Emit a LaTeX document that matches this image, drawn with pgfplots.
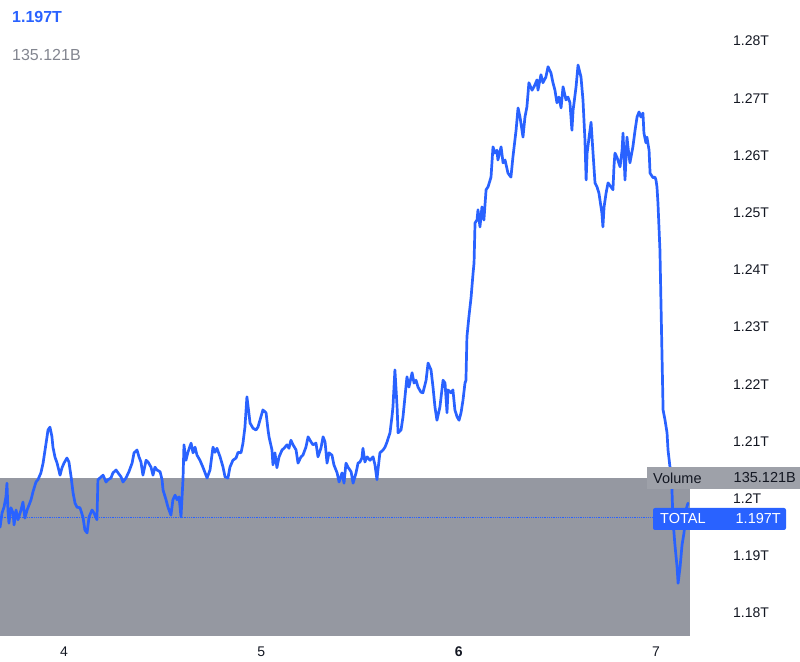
\documentclass[border=0pt]{standalone}
\usepackage{pgfplots}
\pgfplotsset{compat=1.18}
\usepackage{fontspec}
\setmainfont{Liberation Sans}
\definecolor{tvblue}{RGB}{41,98,255}
\definecolor{tvgray}{RGB}{149,152,161}
\definecolor{tvbox}{RGB}{158,161,169}
\definecolor{tvtext}{RGB}{19,23,34}
\definecolor{tvlegend}{RGB}{130,133,143}
\begin{document}
\begin{tikzpicture}[x=1pt,y=1pt]
\path[use as bounding box] (0,0) rectangle (800,661);
\begin{axis}[
  at={(0pt,25pt)}, anchor=south west,
  scale only axis, width=690pt, height=636pt,
  xmin=3.6757, xmax=7.1724, ymin=1.17598, ymax=1.28717,
  axis line style={draw=none}, tick style={draw=none},
  clip=false,
  xtick={4,5,6,7}, xticklabels={4,5,\textbf{6},7},
  ytick={1.18,1.19,1.2,1.21,1.22,1.23,1.24,1.25,1.26,1.27,1.28},
  yticklabels={1.18T,1.19T,1.2T,1.21T,1.22T,1.23T,1.24T,1.25T,1.26T,1.27T,1.28T},
  yticklabel pos=right,
  yticklabel style={anchor=west, inner sep=0pt, xshift=43pt, font=\fontsize{14}{16}\selectfont, text=tvtext},
  xticklabel style={anchor=center, yshift=-16pt, inner sep=0pt, font=\fontsize{14}{16}\selectfont, text=tvtext},
  /pgf/number format/assume math mode=true,
]
\addplot[fill=tvgray, draw=none] coordinates {(3.6757,1.17598) (3.6757,1.2036) (7.1724,1.2036) (7.1724,1.17598)} -- cycle;
\addplot[tvblue, densely dotted, line width=0.8pt] coordinates {(3.6757,1.1968) (7.1724,1.1968)};
\addplot[tvblue, line width=2.7pt, line join=round, line cap=round] coordinates {
(3.676,1.1950) (3.686,1.1975) (3.696,1.1985) (3.706,1.2003) (3.711,1.2027) (3.716,1.1980) (3.721,1.1957) (3.731,1.1984)
(3.742,1.1975) (3.747,1.1954) (3.757,1.1980) (3.767,1.1963) (3.782,1.1980) (3.792,1.1994) (3.802,1.1966) (3.813,1.1980)
(3.833,1.1998) (3.843,1.2012) (3.858,1.2029) (3.868,1.2033) (3.883,1.2045) (3.894,1.2062) (3.904,1.2085) (3.914,1.2108)
(3.919,1.2120) (3.929,1.2125) (3.939,1.2108) (3.944,1.2090) (3.954,1.2073) (3.965,1.2062) (3.980,1.2041) (3.990,1.2054)
(4.000,1.2062) (4.015,1.2071) (4.025,1.2064) (4.036,1.2038) (4.046,1.2010) (4.056,1.1992) (4.066,1.1985) (4.081,1.1984)
(4.096,1.1968) (4.106,1.1945) (4.117,1.1940) (4.127,1.1968) (4.142,1.1980) (4.152,1.1975) (4.167,1.1963) (4.172,1.2033)
(4.182,1.2036) (4.198,1.2041) (4.213,1.2029) (4.223,1.2033) (4.238,1.2036) (4.248,1.2045) (4.264,1.2050) (4.274,1.2045)
(4.289,1.2038) (4.299,1.2029) (4.314,1.2036) (4.329,1.2047) (4.345,1.2062) (4.355,1.2080) (4.370,1.2085) (4.380,1.2073)
(4.390,1.2064) (4.400,1.2041) (4.416,1.2067) (4.426,1.2064) (4.441,1.2055) (4.451,1.2041) (4.461,1.2055) (4.471,1.2050)
(4.487,1.2047) (4.497,1.2033) (4.502,1.2015) (4.517,1.1998) (4.527,1.1985) (4.542,1.1971) (4.552,1.1998) (4.563,1.2006)
(4.573,1.1998) (4.583,1.2003) (4.593,1.1968) (4.603,1.2033) (4.608,1.2094) (4.618,1.2067) (4.628,1.2081) (4.644,1.2097)
(4.654,1.2080) (4.664,1.2090) (4.674,1.2076) (4.689,1.2067) (4.704,1.2055) (4.715,1.2045) (4.725,1.2036) (4.740,1.2050)
(4.755,1.2090) (4.765,1.2081) (4.775,1.2088) (4.791,1.2073) (4.806,1.2055) (4.816,1.2038) (4.831,1.2036) (4.841,1.2055)
(4.856,1.2067) (4.872,1.2071) (4.882,1.2081) (4.897,1.2080) (4.907,1.2097) (4.917,1.2125) (4.927,1.2178) (4.932,1.2164)
(4.943,1.2132) (4.958,1.2123) (4.973,1.2120) (4.983,1.2125) (4.998,1.2143) (5.008,1.2155) (5.024,1.2150) (5.034,1.2120)
(5.039,1.2108) (5.054,1.2085) (5.059,1.2059) (5.069,1.2080) (5.079,1.2054) (5.090,1.2073) (5.105,1.2085) (5.115,1.2088)
(5.130,1.2094) (5.140,1.2088) (5.150,1.2102) (5.161,1.2094) (5.176,1.2085) (5.186,1.2062) (5.201,1.2073) (5.211,1.2076)
(5.226,1.2090) (5.237,1.2108) (5.252,1.2099) (5.262,1.2094) (5.277,1.2097) (5.287,1.2073) (5.302,1.2088) (5.313,1.2108)
(5.323,1.2099) (5.333,1.2062) (5.343,1.2080) (5.358,1.2076) (5.368,1.2059) (5.384,1.2045) (5.394,1.2029) (5.409,1.2045)
(5.419,1.2027) (5.429,1.2062) (5.439,1.2055) (5.455,1.2047) (5.465,1.2027) (5.480,1.2045) (5.490,1.2062) (5.500,1.2064)
(5.510,1.2071) (5.515,1.2088) (5.525,1.2064) (5.536,1.2073) (5.551,1.2067) (5.566,1.2073) (5.576,1.2059) (5.586,1.2033)
(5.591,1.2050) (5.601,1.2080) (5.617,1.2085) (5.627,1.2090) (5.637,1.2099) (5.652,1.2115) (5.662,1.2143) (5.667,1.2160)
(5.677,1.2225) (5.688,1.2160) (5.693,1.2115) (5.708,1.2120) (5.718,1.2143) (5.728,1.2178) (5.738,1.2213) (5.748,1.2195)
(5.764,1.2220) (5.774,1.2202) (5.784,1.2207) (5.794,1.2195) (5.809,1.2186) (5.819,1.2185) (5.835,1.2207) (5.845,1.2237)
(5.860,1.2225) (5.870,1.2195) (5.880,1.2160) (5.890,1.2137) (5.905,1.2160) (5.921,1.2207) (5.931,1.2202) (5.941,1.2150)
(5.946,1.2190) (5.961,1.2185) (5.971,1.2190) (5.981,1.2155) (5.992,1.2143) (6.002,1.2137) (6.012,1.2150) (6.022,1.2172)
(6.032,1.2202) (6.037,1.2207) (6.042,1.2283) (6.052,1.2318) (6.063,1.2352) (6.073,1.2394) (6.078,1.2412) (6.083,1.2482)
(6.093,1.2487) (6.098,1.2505) (6.108,1.2475) (6.118,1.2510) (6.128,1.2487) (6.139,1.2540) (6.149,1.2545) (6.164,1.2562)
(6.174,1.2615) (6.184,1.2604) (6.194,1.2609) (6.199,1.2592) (6.215,1.2615) (6.225,1.2587) (6.235,1.2592) (6.250,1.2569)
(6.265,1.2562) (6.275,1.2597) (6.291,1.2644) (6.301,1.2683) (6.311,1.2667) (6.321,1.2644) (6.326,1.2632) (6.336,1.2667)
(6.346,1.2685) (6.356,1.2727) (6.372,1.2714) (6.382,1.2720) (6.397,1.2732) (6.402,1.2714) (6.417,1.2741) (6.427,1.2727)
(6.442,1.2737) (6.453,1.2755) (6.468,1.2744) (6.478,1.2727) (6.488,1.2714) (6.498,1.2692) (6.508,1.2702) (6.519,1.2683)
(6.529,1.2720) (6.544,1.2697) (6.554,1.2702) (6.564,1.2692) (6.574,1.2644) (6.580,1.2679) (6.595,1.2720) (6.605,1.2758)
(6.620,1.2737) (6.630,1.2697) (6.635,1.2662) (6.640,1.2627) (6.646,1.2557) (6.651,1.2604) (6.661,1.2632) (6.671,1.2658)
(6.681,1.2604) (6.691,1.2552) (6.701,1.2545) (6.711,1.2534) (6.726,1.2499) (6.731,1.2475) (6.737,1.2510) (6.747,1.2534)
(6.757,1.2552) (6.772,1.2545) (6.782,1.2540) (6.787,1.2580) (6.792,1.2604) (6.802,1.2597) (6.818,1.2580) (6.828,1.2609)
(6.833,1.2639) (6.843,1.2557) (6.853,1.2632) (6.858,1.2615) (6.868,1.2587) (6.883,1.2615) (6.894,1.2644) (6.904,1.2667)
(6.914,1.2676) (6.924,1.2667) (6.934,1.2674) (6.939,1.2639) (6.949,1.2622) (6.954,1.2632) (6.965,1.2609) (6.970,1.2569)
(6.985,1.2561) (6.995,1.2562) (7.000,1.2557) (7.005,1.2545) (7.010,1.2517) (7.020,1.2435) (7.025,1.2347) (7.036,1.2155)
(7.046,1.2137) (7.056,1.2115) (7.061,1.2085) (7.071,1.2055) (7.081,1.2015) (7.086,1.1963) (7.096,1.1919) (7.107,1.1880)
(7.112,1.1852) (7.122,1.1880) (7.132,1.1919) (7.142,1.1940) (7.152,1.1980) (7.162,1.1992)
};
\end{axis}
% price-scale badges
\fill[tvbox] (647,172) rectangle (800,194);
\node[anchor=west, inner sep=0pt, text=tvtext, font=\fontsize{14.5}{16}\selectfont] at (653,183) {Volume};
\node[anchor=east, inner sep=0pt, text=tvtext, font=\fontsize{14.5}{16}\selectfont] at (796,183) {135.121B};
\fill[tvblue, rounded corners=2pt] (653,131) rectangle (786,153);
\node[anchor=west, inner sep=0pt, text=white, font=\fontsize{14.5}{16}\selectfont] at (660,142) {TOTAL};
\node[anchor=east, inner sep=0pt, text=white, font=\fontsize{14.5}{16}\selectfont] at (781,142) {1.197T};
% legend
\node[anchor=west, inner sep=0pt, text=tvblue, font=\fontsize{16}{18}\selectfont\bfseries] at (12,644) {1.197T};
\node[anchor=west, inner sep=0pt, text=tvlegend, font=\fontsize{16}{18}\selectfont] at (12,606) {135.121B};
\end{tikzpicture}
\end{document}
